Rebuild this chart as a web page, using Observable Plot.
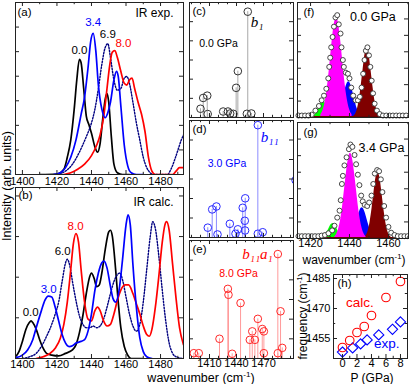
<!DOCTYPE html>
<html><head><meta charset="utf-8">
<script src="https://cdn.jsdelivr.net/npm/d3@7"></script>
<script src="https://cdn.jsdelivr.net/npm/@observablehq/plot@0.6"></script>
<style>
body{margin:0;background:#fff;}
#fig{position:relative;width:409px;height:384px;overflow:hidden;background:#fff;font-family:"Liberation Sans",Arial,Helvetica,sans-serif;}
#fig svg{position:absolute;overflow:visible;}
.lbl{position:absolute;white-space:nowrap;color:#000;transform:translate(-50%,-50%);line-height:1;}
.rot{transform:translate(-50%,-50%) rotate(-90deg);}
sup{font-size:0.65em;}
</style></head><body><div id="fig"></div>
<script>
// ---------- (a) IR exp. spectra [wavenumber, intensity] ----------
const exp00 = [[1410,0],[1420,0.003],[1424,0.03],[1426,0.1],[1428,0.2],[1430,0.38],[1431.5,0.55],[1433,0.67],[1434,0.65],[1435.5,0.5],[1437,0.34],[1438.5,0.29],[1440,0.24],[1442,0.16],[1443.5,0.13],[1445,0.18],[1446.5,0.32],[1448,0.44],[1449,0.47],[1450,0.42],[1451.5,0.22],[1453,0.06],[1455,0.01],[1458,0],[1462,0]];
const exp34 = [[1418,0],[1422,0.01],[1425,0.04],[1428,0.1],[1431,0.2],[1434,0.35],[1436,0.45],[1438,0.62],[1439.5,0.77],[1441,0.82],[1442.5,0.72],[1444,0.52],[1446,0.38],[1448,0.33],[1449.5,0.36],[1451,0.42],[1453,0.55],[1454.5,0.6],[1455.5,0.57],[1457,0.4],[1459,0.17],[1461,0.05],[1463,0.01],[1466,0],[1470,0]];
const exp69 = [[1420,0],[1425,0.02],[1429,0.06],[1433,0.13],[1437,0.22],[1440,0.3],[1442,0.38],[1444,0.5],[1446,0.64],[1448,0.74],[1449.5,0.76],[1451,0.68],[1453,0.55],[1455,0.49],[1457,0.5],[1459,0.56],[1460.5,0.57],[1462,0.53],[1464,0.42],[1466,0.3],[1468,0.2],[1470,0.1],[1472,0.04],[1474,0.01],[1476,0],[1484,0],[1486,0.03],[1488,0.08],[1490,0.14],[1492,0.2],[1493.3,0.23]];
const exp80 = [[1424,0],[1428,0.01],[1432,0.03],[1436,0.06],[1440,0.11],[1443,0.17],[1445,0.23],[1447,0.33],[1449,0.5],[1450.5,0.63],[1452,0.71],[1453.5,0.72],[1455,0.68],[1457,0.6],[1459,0.53],[1460.5,0.52],[1462,0.55],[1463.5,0.56],[1465,0.5],[1467,0.42],[1469,0.35],[1471,0.25],[1473,0.1],[1475,0.02],[1477,0],[1487,0],[1489,0.02],[1491,0.04],[1493.3,0.04]];
const expLabels = [["0.0",1433,0.72],["3.4",1441,0.885],["6.9",1449.5,0.815],["8.0",1458.5,0.76]];

// ---------- (b) IR calc. spectra ----------
const calc00 = [[1396,0.01],[1398,0.04],[1400,0.1],[1402,0.17],[1404,0.21],[1405,0.22],[1406,0.21],[1408,0.17],[1410,0.11],[1412,0.06],[1414,0.03],[1417,0.02],[1421,0.015],[1425,0.03],[1429,0.05],[1431,0.08],[1433,0.15],[1435,0.25],[1437,0.38],[1439,0.48],[1440,0.5],[1441.5,0.47],[1443,0.42],[1444.5,0.43],[1446,0.5],[1448,0.64],[1450,0.74],[1451,0.75],[1452,0.72],[1454,0.52],[1455.5,0.33],[1457,0.18],[1459,0.07],[1461,0.02],[1463,0],[1470,0]];
const calc30 = [[1396,0.005],[1400,0.02],[1403,0.05],[1406,0.11],[1408,0.18],[1411,0.28],[1413,0.34],[1415,0.365],[1417,0.36],[1419,0.3],[1421,0.22],[1423,0.14],[1425,0.09],[1427,0.07],[1429,0.075],[1431,0.09],[1434,0.1],[1436,0.11],[1438,0.16],[1440,0.26],[1442,0.4],[1444,0.5],[1446,0.56],[1447.3,0.57],[1449,0.53],[1451,0.42],[1452.5,0.35],[1454,0.33],[1456,0.4],[1458,0.58],[1460,0.78],[1461.2,0.84],[1462.5,0.78],[1464,0.55],[1466,0.3],[1468,0.12],[1470,0.04],[1472,0.01],[1475,0]];
const calc60 = [[1400,0],[1404,0.01],[1408,0.03],[1411,0.07],[1414,0.13],[1417,0.2],[1419,0.26],[1421,0.33],[1423,0.45],[1425,0.56],[1426,0.58],[1427.5,0.54],[1429,0.45],[1431,0.34],[1433,0.25],[1435,0.2],[1437,0.18],[1439,0.18],[1441,0.19],[1443,0.18],[1445,0.19],[1447,0.23],[1449,0.3],[1451,0.38],[1453,0.45],[1455,0.49],[1456.5,0.5],[1458,0.46],[1460,0.36],[1462,0.26],[1464,0.19],[1466,0.16],[1468,0.2],[1470,0.33],[1472,0.52],[1474,0.71],[1475.5,0.8],[1477,0.76],[1479,0.6],[1481,0.4],[1483,0.22],[1485,0.09],[1487,0.03],[1489,0.01],[1493,0]];
const calc80 = [[1408,0],[1412,0.01],[1416,0.03],[1419,0.06],[1422,0.12],[1424,0.2],[1426,0.33],[1428,0.52],[1429.5,0.67],[1431,0.73],[1432.5,0.68],[1434,0.52],[1436,0.33],[1438,0.23],[1440,0.22],[1442,0.28],[1443.5,0.3],[1445,0.28],[1447,0.22],[1449,0.19],[1451,0.2],[1453,0.26],[1455,0.34],[1457,0.4],[1459.5,0.43],[1461.5,0.43],[1464,0.38],[1466,0.32],[1468,0.26],[1470,0.19],[1472,0.14],[1473.5,0.13],[1475,0.17],[1477,0.3],[1479,0.48],[1481,0.68],[1482.5,0.78],[1483.5,0.8],[1485,0.75],[1487,0.55],[1489,0.35],[1491,0.18],[1493.3,0.08]];
const calcLabels = [["0.0",1404.8,0.27],["3.0",1415.2,0.405],["6.0",1423.3,0.625],["8.0",1430.8,0.775]];

// ---------- (c)(d)(e) calculated modes [wavenumber, intensity] ----------
const modes00 = [[1400,0.076],[1403,0.17],[1407.5,0.19],[1408,0.03],[1425.2,0.052],[1430.5,0.052],[1433,0.035],[1436.5,0.032],[1439.6,0.258],[1441.5,0.403],[1451.5,0.032],[1456.5,0.035],[1452.5,0.92]];
const modes30 = [[1408.1,0.084],[1413,0.24],[1417.7,0.265],[1418.9,0.026],[1432.6,0.117],[1438.9,0.032],[1441.5,0.07],[1446.9,0.254],[1449.7,0.335],[1449.2,0.143],[1449.5,0.06],[1463.7,0.96],[1463.7,0.032],[1469.1,0.045],[1505.6,0.49]];
const modes80 = [[1392.6,0.045],[1398.1,0.045],[1421.1,0.167],[1430.4,0.59],[1431.1,0.54],[1435.2,0.04],[1444.5,0.47],[1454.8,0.158],[1457.5,0.23],[1460.4,0.158],[1463.7,0.336],[1468.6,0.25],[1470.4,0.23],[1470.4,0.045],[1485.9,0.885],[1485.9,0.045],[1488.9,0.4],[1490.8,0.09]];
const modeTags = [["b₁",1452.5,0.83],["b₁₁",1463.7,0.855],["b₁₁a₁",1485.9,0.885]];
const pressTags = [["0.0 GPa",1420,0.64],["3.0 GPa",1429.5,0.63],["8.0 GPa",1442.2,0.72]];

// ---------- (f)(g) exp. data and Gaussian fit components ----------
const dataF = [[1413.8,0.017],[1415.5,0.017],[1417.2,0.017],[1418.9,0.017],[1420.6,0.025],[1422.5,0.06],[1424.3,0.1],[1425.7,0.15],[1426.9,0.19],[1428.1,0.25],[1429.1,0.34],[1429.6,0.44],[1430.1,0.52],[1430.6,0.61],[1431.3,0.7],[1432,0.79],[1432.8,0.87],[1433.7,0.89],[1434.5,0.81],[1435.4,0.73],[1435.9,0.61],[1436.6,0.5],[1437.1,0.44],[1438.1,0.39],[1439.2,0.38],[1440,0.34],[1440.9,0.26],[1441.9,0.19],[1443.1,0.15],[1444.3,0.15],[1445.3,0.18],[1446.2,0.26],[1447,0.38],[1447.7,0.5],[1448.4,0.58],[1449.2,0.61],[1450,0.54],[1450.7,0.44],[1451.4,0.32],[1452.1,0.21],[1452.9,0.12],[1454.1,0.06],[1455.5,0.03],[1457.2,0.017],[1458.9,0.017],[1460.6,0.017],[1462.3,0.017],[1464,0.017],[1465.7,0.017],[1467.4,0.017],[1469.1,0.017]];
const greenF = [[1420.5,0.004],[1421.5,0.011],[1422.5,0.027],[1423.5,0.055],[1424.5,0.093],[1425.5,0.127],[1426.5,0.14],[1427.5,0.127],[1428.5,0.093],[1429.5,0.055],[1430.5,0.027],[1431.5,0.011],[1432.5,0.004]];
const magentaF = [[1425.3,0.025],[1426.3,0.057],[1427.3,0.118],[1428.3,0.218],[1429.3,0.358],[1430.3,0.528],[1431.3,0.696],[1432.3,0.822],[1433.3,0.87],[1434.3,0.822],[1435.3,0.696],[1436.3,0.528],[1437.3,0.358],[1438.3,0.218],[1439.3,0.118],[1440.3,0.057],[1441.3,0.025]];
const blueF = [[1432.6,0.008],[1433.6,0.021],[1434.6,0.049],[1435.6,0.094],[1436.6,0.16],[1437.6,0.23],[1438.6,0.288],[1439.6,0.31],[1440.6,0.288],[1441.6,0.23],[1442.6,0.16],[1443.6,0.094],[1444.6,0.049],[1445.6,0.021],[1446.6,0.008]];
const maroonF = [[1442,0.008],[1443,0.026],[1444,0.068],[1445,0.15],[1446,0.275],[1447,0.42],[1448,0.553],[1449,0.6],[1450,0.553],[1451,0.42],[1452,0.275],[1453,0.15],[1454,0.068],[1455,0.026],[1456,0.008]];
const dataG = [[1413.8,0.02],[1415.5,0.02],[1417.2,0.02],[1418.9,0.02],[1420.6,0.02],[1422.3,0.02],[1424,0.02],[1425.7,0.025],[1427.4,0.03],[1429.2,0.045],[1431.1,0.07],[1432.3,0.11],[1433.7,0.18],[1434.9,0.24],[1435.5,0.33],[1436.1,0.47],[1436.6,0.54],[1437.4,0.63],[1438.5,0.7],[1439.7,0.77],[1440.5,0.81],[1441.5,0.79],[1442.6,0.72],[1443.4,0.64],[1444.3,0.55],[1445.1,0.46],[1446,0.37],[1446.8,0.32],[1447.8,0.29],[1449.1,0.28],[1450.1,0.31],[1451.3,0.37],[1452.2,0.47],[1453,0.56],[1454.2,0.59],[1455.2,0.58],[1456.1,0.51],[1456.9,0.4],[1457.8,0.28],[1458.8,0.18],[1460,0.1],[1461.4,0.05],[1463.1,0.03],[1464.8,0.02],[1466.5,0.02],[1468.2,0.02],[1469.9,0.02]];
const greenG = [[1425.5,0.003],[1426.5,0.01],[1427.5,0.025],[1428.5,0.051],[1429.5,0.086],[1430.5,0.118],[1431.5,0.13],[1432.5,0.118],[1433.5,0.086],[1434.5,0.051],[1435.5,0.025],[1436.5,0.01],[1437.5,0.003]];
const magentaG = [[1432.5,0.016],[1433.5,0.039],[1434.5,0.086],[1435.5,0.166],[1436.5,0.283],[1437.5,0.43],[1438.5,0.578],[1439.5,0.692],[1440.5,0.735],[1441.5,0.692],[1442.5,0.578],[1443.5,0.43],[1444.5,0.283],[1445.5,0.166],[1446.5,0.086],[1447.5,0.039],[1448.5,0.016]];
const blueG = [[1439.5,0.007],[1440.5,0.018],[1441.5,0.042],[1442.5,0.081],[1443.5,0.136],[1444.5,0.197],[1445.5,0.246],[1446.5,0.265],[1447.5,0.246],[1448.5,0.197],[1449.5,0.136],[1450.5,0.081],[1451.5,0.042],[1452.5,0.018],[1453.5,0.007]];
const maroonG = [[1447.6,0.008],[1448.6,0.025],[1449.6,0.065],[1450.6,0.143],[1451.6,0.26],[1452.6,0.4],[1453.6,0.525],[1454.6,0.57],[1455.6,0.525],[1456.6,0.4],[1457.6,0.26],[1458.6,0.143],[1459.6,0.065],[1460.6,0.025],[1461.6,0.008]];

// ---------- (h) frequency vs pressure ----------
const calcP = [0,1,2,3,4,6,8];
const calcF = [1450.5,1454,1458,1461,1466.5,1475.5,1483.5];
const expP = [0,1.4,2.5,3.4,5.0,6.9,8.0];
const expF = [1448.2,1450.3,1452.3,1454.3,1456.8,1459.6,1463.3];

// ---------- tick values ----------
const wnTicksA = [1400,1420,1440,1460,1480];
const wnMinorA = [1410,1430,1450,1470,1490];
const wnTicksC = [1410,1440,1470];
const wnMinorC = [1390,1400,1420,1430,1450,1460,1480,1490,1500];
const wnTicksF = [1420,1440,1460];
const wnMinorF = [1430,1450,1470];
const pTicks = [0,2,4,6,8];
const pMinor = [1,3,5,7];
const fTicks = [1455,1470,1485];
const fMinor = [1462.5,1477.5];

const FONT = '"Liberation Sans", Arial, Helvetica, sans-serif';
const SERIF = '"Liberation Serif", "Times New Roman", serif';
const fig = document.getElementById("fig");
const X = d => d[0], Y = d => d[1];
const seq = (a, b, s) => d3.range(a, b + 1e-9, s);

function panel(o) {
  const {x0, y0, w, h, xd, yd, mL = 36, mR = 6, mT = 6, mB = 22, pad = 3,
    xLab = null, yLab = null, xMaj = [], xMin = [], yMaj = [], yMin = [], marks = []} = o;
  const TL = 4, TM = 2.2, col = "#222";
  const tk = [
    Plot.tickX(xMaj, {x: d => d, insetTop: h - TL, stroke: col}),
    Plot.tickX(xMaj, {x: d => d, insetBottom: h - TL, stroke: col}),
    Plot.tickX(xMin, {x: d => d, insetTop: h - TM, stroke: col}),
    Plot.tickX(xMin, {x: d => d, insetBottom: h - TM, stroke: col}),
    Plot.tickY(yMaj, {y: d => d, insetRight: w - TL, stroke: col}),
    Plot.tickY(yMaj, {y: d => d, insetLeft: w - TL, stroke: col}),
    Plot.tickY(yMin, {y: d => d, insetRight: w - TM, stroke: col}),
    Plot.tickY(yMin, {y: d => d, insetLeft: w - TM, stroke: col})
  ];
  const svg = Plot.plot({
    width: w + mL + mR, height: h + mT + mB,
    marginLeft: mL, marginRight: mR, marginTop: mT, marginBottom: mB,
    x: {domain: xd, axis: xLab ? "bottom" : null, ticks: xLab || undefined, tickSize: 0, tickPadding: pad, tickFormat: "d", label: null},
    y: {domain: yd, axis: yLab ? "left" : null, ticks: yLab || undefined, tickSize: 0, tickPadding: 3, tickFormat: "d", label: null},
    style: {background: "transparent", fontFamily: FONT, fontSize: "11px", color: "#000", overflow: "visible"},
    marks: [...marks, ...tk, Plot.frame({stroke: col})]
  });
  svg.style.position = "absolute";
  svg.style.left = (x0 - mL) + "px";
  svg.style.top = (y0 - mT) + "px";
  fig.appendChild(svg);
}

const colA = [1396, 1493.3];
const lineOpt = (c, extra = {}) => ({x: X, y: Y, stroke: c, strokeWidth: 1.7, curve: "monotone-x", clip: true, ...extra});
const dotted = {strokeDasharray: "1.4,1.6", strokeWidth: 1.4};
const tag = (txt, c, opts) => Plot.text([txt], {frameAnchor: "top-left", lineAnchor: "top", textAnchor: "start", fill: c, fontSize: 11.5, ...opts});

// (a)
panel({x0: 15, y0: 2, w: 168, h: 172, xd: colA, yd: [0, 1], xLab: wnTicksA,
  xMaj: wnTicksA, xMin: wnMinorA, yMaj: seq(1/7, 0.9, 1/7),
  marks: [
    Plot.line(exp00, lineOpt("#000")),
    Plot.line(exp69, lineOpt("#000080", dotted)),
    Plot.line(exp80, lineOpt("#ff0000")),
    Plot.line(exp34, lineOpt("#0000ff")),
    Plot.text(expLabels, {x: d => d[1], y: d => d[2], text: d => d[0], fill: (d, i) => ["#000", "#0000ff", "#000", "#ff0000"][i], fontSize: 11.5}),
    tag("(a)", "#000", {dx: 2, dy: 5}),
    Plot.text(["IR exp."], {frameAnchor: "top-right", lineAnchor: "top", textAnchor: "end", dx: -10, dy: 6, fontSize: 12})
  ]});

// (b)
panel({x0: 15, y0: 187, w: 168, h: 171, xd: colA, yd: [0, 1], xLab: wnTicksA, pad: 2,
  xMaj: wnTicksA, xMin: wnMinorA, yMaj: seq(0.238, 0.96, 0.2375),
  marks: [
    Plot.line(calc00, lineOpt("#000")),
    Plot.line(calc60, lineOpt("#000080", dotted)),
    Plot.line(calc80, lineOpt("#ff0000")),
    Plot.line(calc30, lineOpt("#0000ff")),
    Plot.text(calcLabels, {x: d => d[1], y: d => d[2], text: d => d[0], fill: (d, i) => ["#000", "#0000ff", "#000", "#ff0000"][i], fontSize: 11.5}),
    tag("(b)", "#000", {dx: 3, dy: 3}),
    Plot.text(["IR calc."], {frameAnchor: "top-right", lineAnchor: "top", textAnchor: "end", dx: -10, dy: 10, fontSize: 12})
  ]});

// (c)(d)(e)
const colC = [1387.8, 1503.3];
const stickMarks = (data, stemC, dotC) => [
  Plot.ruleX(data, {x: X, y1: 0, y2: Y, stroke: stemC, strokeWidth: 1, clip: true}),
  Plot.dot(data, {x: X, y: Y, r: 3.8, stroke: dotC, fill: "none", strokeWidth: 1, clip: true})
];
const ySt = seq(1/6, 0.9, 1/6);
panel({x0: 189, y0: 2, w: 104, h: 115, xd: colC, yd: [0, 1], mB: 4,
  xMaj: wnTicksC, xMin: wnMinorC, yMaj: ySt,
  marks: [
    ...stickMarks(modes00, "#a8a8a8", "#333"),
    Plot.text([modeTags[0]], {x: d => d[1], y: d => d[2], text: d => d[0], dx: 3, textAnchor: "start", fontFamily: SERIF, fontStyle: "italic", fontSize: 15, fill: "#000"}),
    Plot.text([pressTags[0]], {x: d => d[1], y: d => d[2], text: d => d[0], fontSize: 10.5, fill: "#000"}),
    tag("(c)", "#000", {dx: 3, dy: 4})
  ]});
panel({x0: 189, y0: 120, w: 104, h: 117, xd: colC, yd: [0, 1], mB: 4,
  xMaj: wnTicksC, xMin: wnMinorC, yMaj: ySt,
  marks: [
    ...stickMarks(modes30, "#8c8cff", "#2a2aff"),
    Plot.text([modeTags[1]], {x: d => d[1], y: d => d[2], text: d => d[0], dx: 3, textAnchor: "start", fontFamily: SERIF, fontStyle: "italic", fontSize: 15, fill: "#0000ff"}),
    Plot.text([pressTags[1]], {x: d => d[1], y: d => d[2], text: d => d[0], fontSize: 10.5, fill: "#0000ff"}),
    tag("(d)", "#000", {dx: 3, dy: 4})
  ]});
panel({x0: 189, y0: 240, w: 104, h: 118, xd: colC, yd: [0, 1], xLab: wnTicksC, pad: 1,
  xMaj: wnTicksC, xMin: wnMinorC, yMaj: ySt,
  marks: [
    ...stickMarks(modes80, "#ff9a9a", "#ff2a2a"),
    Plot.text([modeTags[2]], {x: d => d[1], y: d => d[2], text: d => d[0], dx: -5, textAnchor: "end", fontFamily: SERIF, fontStyle: "italic", fontSize: 15, fill: "#ff0000"}),
    Plot.text([pressTags[2]], {x: d => d[1], y: d => d[2], text: d => d[0], fontSize: 10.5, fill: "#ff0000"}),
    tag("(e)", "#000", {dx: 3, dy: 4})
  ]});

// (f)(g)
const colF = [1413.3, 1470.3];
const fitMarks = (g, m, b, r, data) => [
  Plot.areaY(g, {x: X, y: Y, fill: "#00ff00", curve: "monotone-x"}),
  Plot.areaY(b, {x: X, y: Y, fill: "#0000ff", curve: "monotone-x"}),
  Plot.areaY(r, {x: X, y: Y, fill: "#800000", curve: "monotone-x"}),
  Plot.areaY(m, {x: X, y: Y, fill: "#ff00ff", curve: "monotone-x"}),
  Plot.ruleY([0.006], {stroke: "#6a0000", strokeWidth: 1.6}),
  Plot.dot(data, {x: X, y: Y, r: 2.5, stroke: "#333", fill: "white", strokeWidth: 0.9})
];
const yF = seq(1/7, 0.9, 1/7);
panel({x0: 297, y0: 2, w: 111, h: 115, xd: colF, yd: [0, 1], mL: 8, mR: 2, mB: 4,
  xMaj: wnTicksF, xMin: wnMinorF, yMaj: yF,
  marks: [
    ...fitMarks(greenF, magentaF, blueF, maroonF, dataF),
    tag("(f)", "#000", {dx: 6, dy: 5}),
    Plot.text(["0.0 GPa"], {x: [1452], y: [0.87], fontSize: 12.5})
  ]});
panel({x0: 297, y0: 122, w: 111, h: 116, xd: colF, yd: [0, 1], mL: 8, mR: 2, xLab: wnTicksF, pad: 1,
  xMaj: wnTicksF, xMin: wnMinorF, yMaj: yF,
  marks: [
    ...fitMarks(greenG, magentaG, blueG, maroonG, dataG),
    tag("(g)", "#000", {dx: 6, dy: 5}),
    Plot.text(["3.4 GPa"], {x: [1456.4], y: [0.78], fontSize: 12.5})
  ]});

// (h)
panel({x0: 333, y0: 274, w: 74, h: 84, xd: [-1.24, 8.97], yd: [1445, 1487], mL: 36, mR: 2, mB: 14, pad: 1,
  xLab: pTicks, yLab: fTicks, xMaj: pTicks, xMin: pMinor, yMaj: fTicks, yMin: fMinor,
  marks: [
    Plot.dot(expP, {x: d => d, y: (d, i) => expF[i], symbol: "diamond2", r: 4.6, stroke: "#0000ff", strokeWidth: 1.1}),
    Plot.dot(calcP, {x: d => d, y: (d, i) => calcF[i], symbol: "circle", r: 4.3, stroke: "#ff0000", strokeWidth: 1.1}),
    tag("(h)", "#000", {dx: 4, dy: 4}),
    Plot.text(["calc."], {x: [2.4], y: [1473], fill: "#ff0000", fontSize: 13.5}),
    Plot.text(["exp."], {x: [6.1], y: [1452.5], fill: "#0000ff", fontSize: 13.5})
  ]});

// shared axis titles
function label(html, x, y, size, rot) {
  const d = document.createElement("div");
  d.className = "lbl" + (rot ? " rot" : "");
  d.style.left = x + "px"; d.style.top = y + "px"; d.style.fontSize = size + "px";
  d.innerHTML = html;
  fig.appendChild(d);
}
label("Intensity (arb. units)", 7, 186, 12.5, true);
label("wavenumber (cm<sup>-1</sup>)", 201, 378, 12.5, false);
label("wavenumber (cm<sup>-1</sup>)", 354, 259, 12, false);
label("frequency (cm<sup>-1</sup>)", 302, 316, 12, true);
label("P (GPa)", 372, 378, 12, false);
</script></body></html>
